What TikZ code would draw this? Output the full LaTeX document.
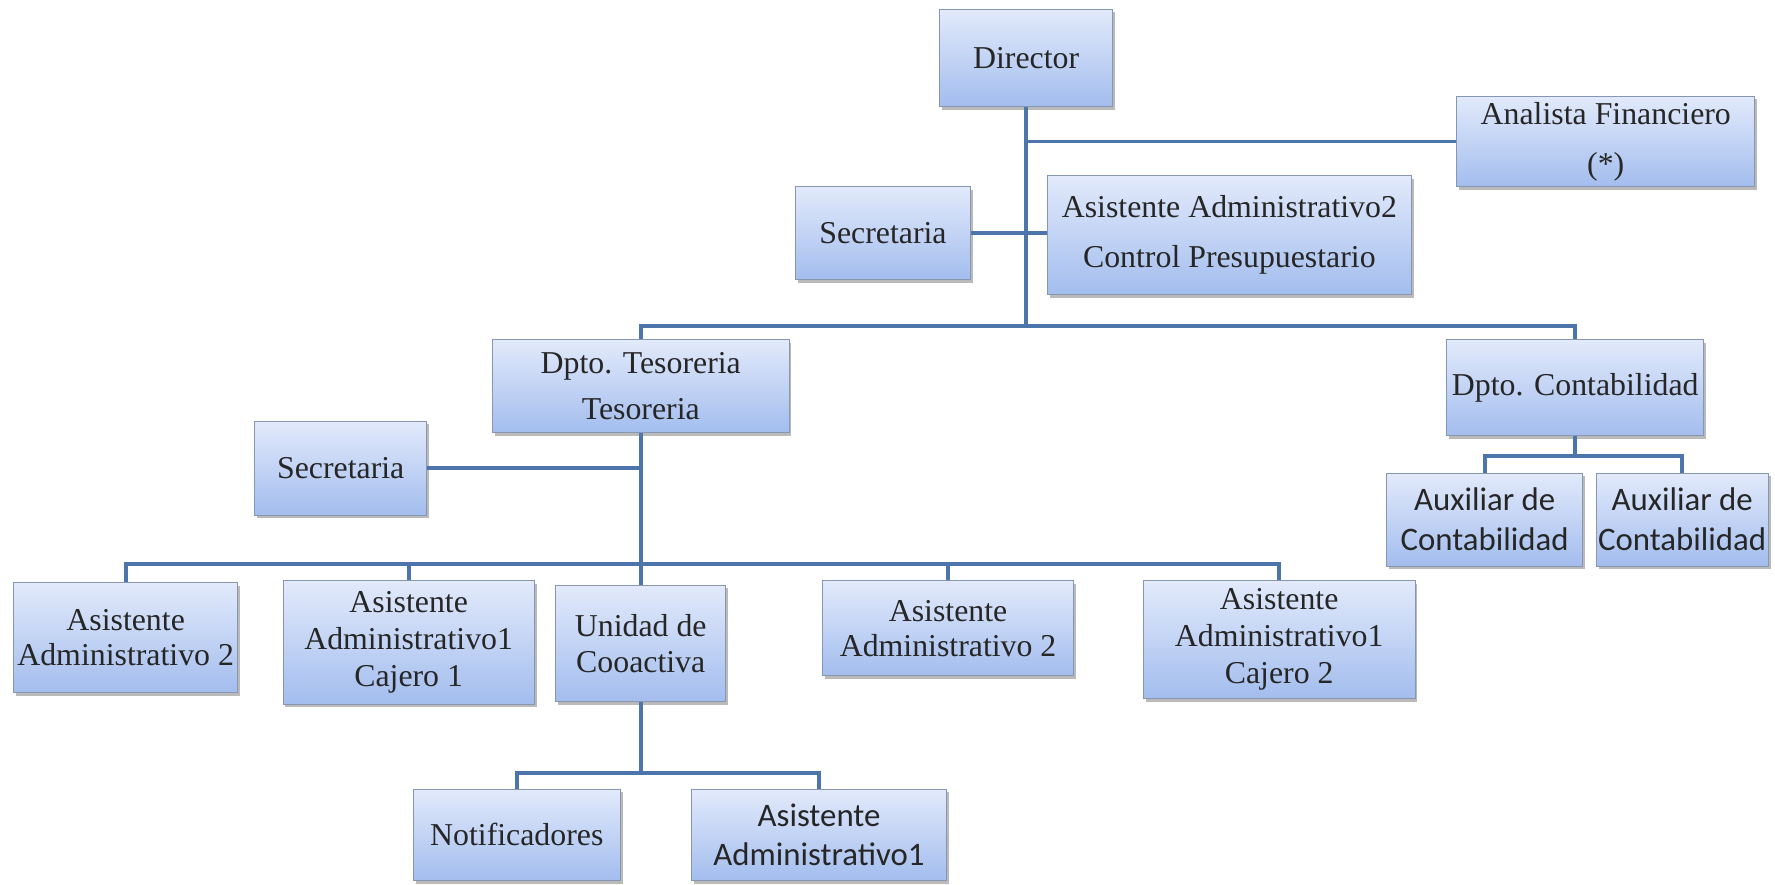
\documentclass[tikz,border=0pt]{standalone}
\usepackage{fontspec}
\setmainfont{Liberation Serif}
\newfontfamily\carlito{Carlito}
\usetikzlibrary{shadows}

\definecolor{boxtop}{HTML}{E2EAFB}
\definecolor{boxbot}{HTML}{A3BDEE}
\definecolor{boxrim}{HTML}{8797B2}
\definecolor{linkblue}{HTML}{4C76AB}

\begin{document}
\begin{tikzpicture}[x=1cm,y=1cm,
    orgbox/.style={rectangle,draw=boxrim,line width=0.5pt,top color=boxtop,bottom color=boxbot,
        drop shadow={shadow xshift=1.2pt,shadow yshift=-1.6pt,fill=black!45,opacity=0.6},
        align=center,inner sep=0pt,text=black!85,font=\fontsize{16}{19}\selectfont},
    link/.style={draw=linkblue,line width=2pt}]

        \useasboundingbox (0,0) rectangle (31.36,-15.62);

        \coordinate (bus1) at (18.13,-5.76);
        \coordinate (bus2) at (11.32,-9.96);
        \coordinate (bus3) at (11.32,-13.66);
        \coordinate (bus4) at (27.83,-8.06);

        \node[orgbox,minimum width=3.06cm,minimum height=1.72cm] (dir) at (18.13,-1.02) {Director};
        \node[orgbox,minimum width=5.26cm,minimum height=1.6cm,font=\fontsize{16}{25}\selectfont] (ana) at (28.37,-2.5) {Analista Financiero\\(*)};
        \node[orgbox,minimum width=3.08cm,minimum height=1.64cm] (sec1) at (15.6,-4.12) {Secretaria};
        \node[orgbox,minimum width=6.44cm,minimum height=2.1cm,font=\fontsize{16}{25}\selectfont] (asis2) at (21.72,-4.15) {Asistente Administrativo2\\Control Presupuestario};
        \node[orgbox,minimum width=5.24cm,minimum height=1.64cm,font=\fontsize{16}{23}\selectfont] (tes) at (11.32,-6.82) {Dpto. Tesoreria\\Tesoreria};
        \node[orgbox,minimum width=4.54cm,minimum height=1.7cm] (con) at (27.83,-6.85) {Dpto. Contabilidad};
        \node[orgbox,minimum width=3.46cm,minimum height=1.64cm,font=\carlito\fontsize{16.5}{20}\selectfont] (aux1) at (26.23,-9.18) {Auxiliar de\\Contabilidad};
        \node[orgbox,minimum width=3.04cm,minimum height=1.64cm,font=\carlito\fontsize{16.5}{20}\selectfont] (aux2) at (29.72,-9.18) {Auxiliar de\\Contabilidad};
        \node[orgbox,minimum width=3.04cm,minimum height=1.66cm] (sec2) at (6.02,-8.27) {Secretaria};
        \node[orgbox,minimum width=3.96cm,minimum height=1.94cm,font=\fontsize{16}{17.5}\selectfont] (adm2a) at (2.22,-11.27) {Asistente\\Administrativo 2};
        \node[orgbox,minimum width=4.44cm,minimum height=2.18cm,font=\fontsize{16}{18.5}\selectfont] (caj1) at (7.22,-11.35) {Asistente\\Administrativo1\\Cajero 1};
        \node[orgbox,minimum width=3.0cm,minimum height=2.06cm,font=\fontsize{16}{18}\selectfont] (coo) at (11.32,-11.37) {Unidad de\\Cooactiva};
        \node[orgbox,minimum width=4.42cm,minimum height=1.68cm,font=\fontsize{16}{17.5}\selectfont] (adm2b) at (16.75,-11.1) {Asistente\\Administrativo 2};
        \node[orgbox,minimum width=4.8cm,minimum height=2.08cm,font=\fontsize{16}{18.5}\selectfont] (caj2) at (22.6,-11.3) {Asistente\\Administrativo1\\Cajero 2};
        \node[orgbox,minimum width=3.66cm,minimum height=1.62cm] (noti) at (9.13,-14.75) {Notificadores};
        \node[orgbox,minimum width=4.5cm,minimum height=1.62cm,font=\carlito\fontsize{16.5}{20}\selectfont] (adm1) at (14.47,-14.75) {Asistente\\Administrativo1};

        % links
        \draw[link] (dir.south) -- (bus1);
        \draw[link] (dir.south |- ana.west) -- (ana.west);
        \draw[link] (sec1.east) -- (sec1.east -| asis2.west);
        \draw[link] (tes.north) |- (bus1) -| (con.north);
        \draw[link] (con.south) -- (bus4);
        \draw[link] (aux1.north) |- (bus4) -| (aux2.north);
        \draw[link] (tes.south) -- (coo.north);
        \draw[link] (sec2.east) -- (sec2.east -| tes.south);
        \draw[link] (adm2a.north) |- (bus2) -| (caj2.north);
        \draw[link] (caj1.north) |- (bus2);
        \draw[link] (adm2b.north) |- (bus2);
        \draw[link] (coo.south) -- (bus3);
        \draw[link] (noti.north) |- (bus3) -| (adm1.north);
    \end{tikzpicture}
\end{document}
